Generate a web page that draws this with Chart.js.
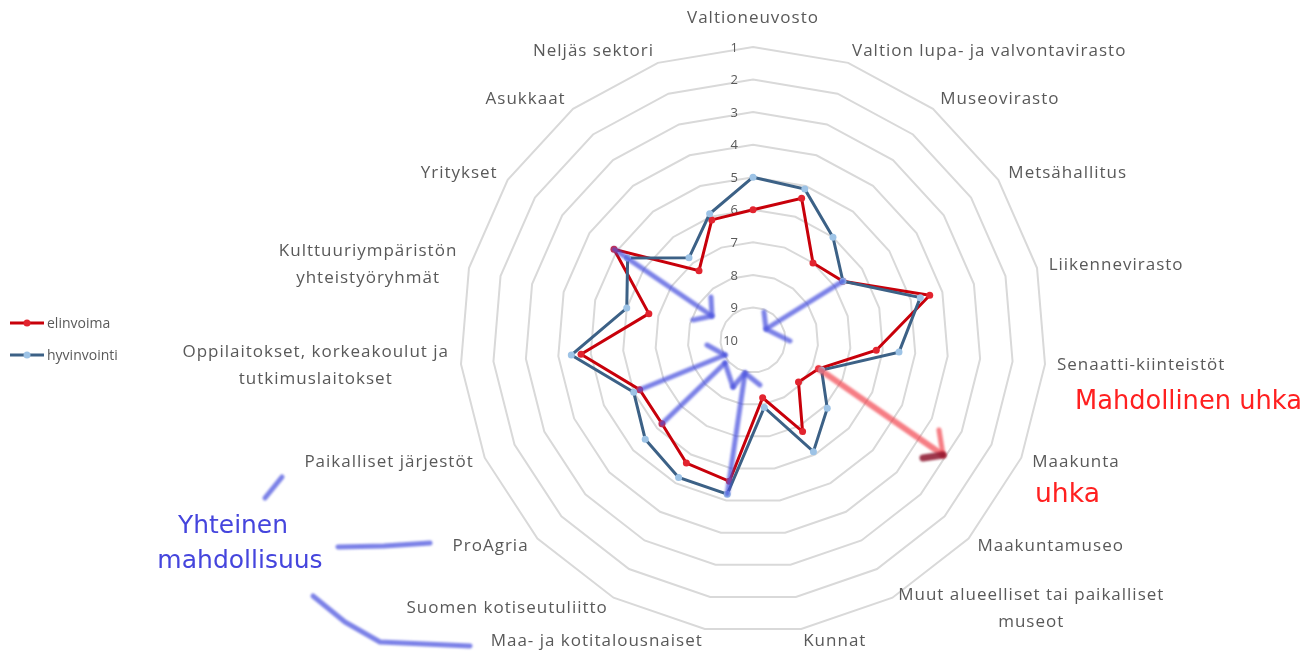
<!DOCTYPE html>
<html>
<head>
<meta charset="utf-8">
<script src="https://cdn.jsdelivr.net/npm/chart.js@4.4.1/dist/chart.umd.min.js"></script>
<style>
  html, body { margin: 0; padding: 0; background: #fff; }
</style>
</head>
<body>
<canvas id="radar" width="1315" height="655"></canvas>
<script>
const categories = [
  ['Valtioneuvosto'],
  ['Valtion lupa- ja valvontavirasto'],
  ['Museovirasto'],
  ['Metsähallitus'],
  ['Liikennevirasto'],
  ['Senaatti-kiinteistöt'],
  ['Maakunta'],
  ['Maakuntamuseo'],
  ['Muut alueelliset tai paikalliset', 'museot'],
  ['Kunnat'],
  ['Maa- ja kotitalousnaiset'],
  ['Suomen kotiseutuliitto'],
  ['ProAgria'],
  ['Paikalliset järjestöt'],
  ['Oppilaitokset, korkeakoulut ja', 'tutkimuslaitokset'],
  ['Kulttuuriympäristön', 'yhteistyöryhmät'],
  ['Yritykset'],
  ['Asukkaat'],
  ['Neljäs sektori']
];
const seriesNames = ['elinvoima', 'hyvinvointi'];
const elinvoima = [6, 5.4, 7, 6.7, 4.4, 6.2, 7.8, 8.1, 6.8, 8.2, 5.6, 5.7, 6.2, 6.2, 4.7, 6.7, 4.9, 7.3, 6.1];
const hyvinvointi = [5, 5.1, 6, 6.7, 4.7, 5.5, 7.7, 6.9, 6.1, 7.9, 5.2, 5.2, 5.5, 6, 4.4, 6, 5.4, 6.8, 5.9];
const tickLabels = ['1', '2', '3', '4', '5', '6', '7', '8', '9', '10'];

const textGray = '#595959';

// category labels placed like Excel does: block centred on the spoke, just outside the outer ring
const excelLabels = {
  id: 'excelLabels',
  beforeDatasetsDraw(chart) {
    const s = chart.scales.r;
    const ctx = chart.ctx;
    ctx.save();
    ctx.fillStyle = textGray;
    ctx.font = '13px "Open Sans"';
    ctx.textAlign = 'right';
    ctx.textBaseline = 'middle';
    s.ticks.forEach(t => {
      const y = s.yCenter - s.getDistanceFromCenterForValue(t.value);
      ctx.fillText(tickLabels[tickLabels.indexOf(String(t.value))], s.xCenter - 15, y + 1);
    });
    ctx.restore();
  },
  afterDraw(chart) {
    const s = chart.scales.r;
    const ctx = chart.ctx;
    ctx.save();
    ctx.fillStyle = textGray;
    ctx.font = '17px "Open Sans"';
    ctx.letterSpacing = '1px';
    ctx.textBaseline = 'middle';
    ctx.textAlign = 'center';
    const lh = 27;
    categories.forEach((lines, i) => {
      const ang = s.getIndexAngle(i);
      const sin = Math.sin(ang), cos = Math.cos(ang);
      const p = s.getPointPosition(i, s.drawingArea + 12);
      const w = Math.max(...lines.map(l => ctx.measureText(l).width));
      const h = lines.length * lh;
      let cx = p.x, cy = p.y;
      if (sin > 0.03) cx = p.x + w / 2;
      else if (sin < -0.03) cx = p.x - w / 2;
      else cy = p.y - cos * (h / 2 + 3);
      lines.forEach((l, k) => {
        ctx.fillText(l, cx, cy - h / 2 + lh / 2 + k * lh);
      });
    });

    // legend
    ctx.letterSpacing = '0px';
    ctx.font = '14px "Open Sans"';
    ctx.textAlign = 'left';
    chart.data.datasets.forEach((ds, k) => {
      const y = 323 + k * 32;
      ctx.strokeStyle = ds.borderColor;
      ctx.lineWidth = 3;
      ctx.beginPath(); ctx.moveTo(10, y); ctx.lineTo(44, y); ctx.stroke();
      ctx.fillStyle = ds.pointBackgroundColor;
      ctx.beginPath(); ctx.arc(27, y, 3.5, 0, Math.PI * 2); ctx.fill();
      ctx.fillStyle = textGray;
      ctx.fillText(ds.label, 47, y + 1);
    });
    ctx.restore();
  }
};

function brush(ctx, pts, color, width) {
  ctx.save();
  ctx.strokeStyle = color;
  ctx.lineWidth = width;
  ctx.lineCap = 'round';
  ctx.lineJoin = 'round';
  ctx.filter = 'blur(1.2px)';
  ctx.beginPath();
  pts.forEach(([x, y], k) => k ? ctx.lineTo(x, y) : ctx.moveTo(x, y));
  ctx.stroke();
  ctx.restore();
}

function fitText(ctx, text, x, y, width, color, align) {
  ctx.save();
  ctx.font = '30px "DejaVu Sans"';
  const size = 30 * width / ctx.measureText(text).width;
  ctx.font = size.toFixed(1) + 'px "DejaVu Sans"';
  ctx.fillStyle = color;
  ctx.textAlign = align;
  ctx.textBaseline = 'middle';
  ctx.fillText(text, x, y);
  ctx.restore();
}

// hand drawn notes on top of the chart
const notes = {
  id: 'notes',
  afterDraw(chart) {
    const s = chart.scales.r;
    const ctx = chart.ctx;
    const cx = s.xCenter, cy = s.yCenter;
    const red = chart.getDatasetMeta(0).data;
    const blue = chart.getDatasetMeta(1).data;
    const rel = (dx, dy) => [cx + dx, cy + dy];
    const bc = 'rgba(72, 80, 222, 0.72)';

    const arrows = [
      [[red[16].x, red[16].y], rel(-41, -24), [rel(-42, -43), rel(-41, -24), rel(-60, -20)]],
      [[blue[3].x, blue[3].y], rel(13, -11), [rel(11, -28), rel(13, -11), rel(37, 1)]],
      [[red[13].x, red[13].y], rel(-28, 15), [rel(-46, 5), rel(-28, 15)]],
      [[red[12].x, red[12].y], rel(-28, 23), [rel(-28, 23), rel(-20, 47)]],
      [[blue[10].x, blue[10].y], rel(-8, 33), [rel(-20, 47), rel(-8, 33), rel(7, 45)]]
    ];
    arrows.forEach(([a, b, head]) => {
      brush(ctx, [a, b], bc, 5);
      brush(ctx, head, bc, 5);
    });

    const rc = 'rgba(242, 70, 80, 0.7)';
    brush(ctx, [[red[6].x, red[6].y], rel(190, 115)], rc, 6);
    brush(ctx, [rel(186, 90), rel(190, 115)], rc, 5);
    brush(ctx, [rel(170, 118), rel(190, 115)], 'rgba(140, 20, 45, 0.85)', 7);

    brush(ctx, [[265, 498], [282, 477]], bc, 5);
    brush(ctx, [[338, 547], [384, 546], [430, 543]], bc, 5);
    brush(ctx, [[313, 596], [345, 622], [380, 642], [470, 646]], bc, 5);

    fitText(ctx, 'Mahdollinen uhka', 1075, 402, 227, '#FF2020', 'left');
    fitText(ctx, 'uhka', 1035, 495, 65, '#FF2020', 'left');
    fitText(ctx, 'Yhteinen', 233, 527, 110, '#4545DD', 'center');
    fitText(ctx, 'mahdollisuus', 240, 561, 165, '#4545DD', 'center');
  }
};

new Chart(document.getElementById('radar'), {
  type: 'radar',
  data: {
    labels: categories,
    datasets: [
      {
        label: seriesNames[0],
        data: elinvoima,
        borderColor: '#C8000A',
        borderWidth: 3,
        pointBackgroundColor: '#E2242F',
        pointBorderWidth: 0,
        pointRadius: 3.5,
        fill: false,
        order: 1
      },
      {
        label: seriesNames[1],
        data: hyvinvointi,
        borderColor: '#3C6186',
        borderWidth: 3,
        pointBackgroundColor: '#9DC3E6',
        pointBorderWidth: 0,
        pointRadius: 3.5,
        fill: false,
        order: 0
      }
    ]
  },
  options: {
    responsive: false,
    animation: false,
    layout: { padding: { left: 191, right: 0, top: 47, bottom: 22 } },
    elements: { line: { tension: 0 } },
    plugins: {
      legend: { display: false },
      tooltip: { enabled: false }
    },
    scales: {
      r: {
        min: 1,
        max: 10,
        reverse: true,
        ticks: { display: false, stepSize: 1 },
        angleLines: { display: false },
        grid: { color: '#D9D9D9', lineWidth: 2 },
        pointLabels: { display: false }
      }
    }
  },
  plugins: [excelLabels, notes]
});
</script>
</body>
</html>
